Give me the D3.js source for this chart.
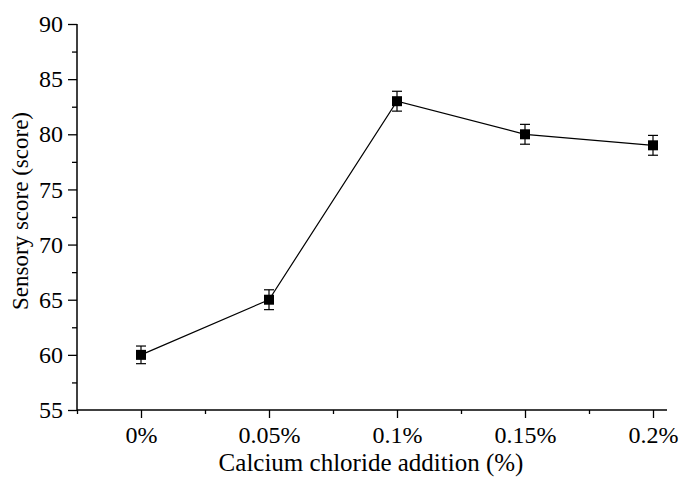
<!DOCTYPE html>
<html><head><meta charset="utf-8">
<script src="https://cdn.jsdelivr.net/npm/d3@7"></script>
<style>html,body{margin:0;padding:0;background:#fff;} svg{display:block;}</style>
</head><body>
<svg id="c" width="681" height="478"></svg>
<script>
const categories = ["0%", "0.05%", "0.1%", "0.15%", "0.2%"];
const scores = [60, 65, 83, 80, 79];
const errors = [0.8, 0.9, 0.9, 0.9, 0.9];
const yTicks = [55, 60, 65, 70, 75, 80, 85, 90];
const yMinorTicks = [57.5, 62.5, 67.5, 72.5, 77.5, 82.5, 87.5];
const xMinorTicks = [-0.5, 0.5, 1.5, 2.5, 3.5];
const xTitle = "Calcium chloride addition (%)";
const yTitle = "Sensory score (score)";

(function () {
const svg = d3.select("#c");
const font = "'Liberation Serif', 'Times New Roman', serif";
const mLeft = 77, mTop = 24, mBottom = 410, mRight = 667;

const x = d3.scaleLinear().domain([-0.5, 4]).range([mLeft, 653]);
const y = d3.scaleLinear().domain([55, 90]).range([mBottom, mTop]);

// axis lines
svg.append("line").attr("x1", mLeft).attr("x2", mRight).attr("y1", mBottom).attr("y2", mBottom)
  .attr("stroke", "#000").attr("stroke-width", 1.5);
svg.append("line").attr("x1", mLeft).attr("x2", mLeft).attr("y1", mBottom + 0.75).attr("y2", mTop)
  .attr("stroke", "#000").attr("stroke-width", 1.5);

// y axis ticks
const yAxis = d3.axisLeft(y).tickValues(yTicks).tickSize(9).tickPadding(5).tickFormat(d3.format("d"));
const gy = svg.append("g").attr("transform", `translate(${mLeft},0)`).call(yAxis);
gy.select(".domain").remove();
gy.selectAll("line").attr("stroke-width", 1.3);
gy.selectAll("text").attr("font-family", font).attr("font-size", 24).attr("fill", "#000");
const yMinor = d3.axisLeft(y).tickValues(yMinorTicks).tickSize(5).tickFormat("");
const gym = svg.append("g").attr("transform", `translate(${mLeft},0)`).call(yMinor);
gym.select(".domain").remove();
gym.selectAll("line").attr("stroke-width", 1.3);

// x axis ticks
const xAxis = d3.axisBottom(x).tickValues(d3.range(categories.length)).tickSize(8).tickPadding(8)
  .tickFormat(i => categories[i]);
const gx = svg.append("g").attr("transform", `translate(0,${mBottom})`).call(xAxis);
gx.select(".domain").remove();
gx.selectAll("line").attr("stroke-width", 1.3);
gx.selectAll("text").attr("font-family", font).attr("font-size", 24).attr("fill", "#000");
const xMinor = d3.axisBottom(x).tickValues(xMinorTicks).tickSize(4).tickFormat("");
const gxm = svg.append("g").attr("transform", `translate(0,${mBottom})`).call(xMinor);
gxm.select(".domain").remove();
gxm.selectAll("line").attr("stroke-width", 1.3);

// line
const line = d3.line().x((d, i) => x(i)).y(d => y(d));
svg.append("path").datum(scores).attr("d", line).attr("fill", "none")
  .attr("stroke", "#000").attr("stroke-width", 1.2);

// error bars
const eb = svg.append("g");
scores.forEach((v, i) => {
  const cx = x(i), hi = y(v + errors[i]), lo = y(v - errors[i]);
  eb.append("line").attr("x1", cx).attr("x2", cx).attr("y1", hi).attr("y2", lo).attr("stroke", "#000").attr("stroke-width", 1.2);
  eb.append("line").attr("x1", cx - 5).attr("x2", cx + 5).attr("y1", hi).attr("y2", hi).attr("stroke", "#000").attr("stroke-width", 1.2);
  eb.append("line").attr("x1", cx - 5).attr("x2", cx + 5).attr("y1", lo).attr("y2", lo).attr("stroke", "#000").attr("stroke-width", 1.2);
});

// markers
svg.append("g").selectAll("rect").data(scores).join("rect")
  .attr("x", (d, i) => x(i) - 5).attr("y", d => y(d) - 5)
  .attr("width", 10).attr("height", 10).attr("fill", "#000");

// titles
svg.append("text")
  .attr("x", 371).attr("y", 471).attr("text-anchor", "middle")
  .attr("font-family", font).attr("font-size", 25).attr("fill", "#000").text(xTitle);
svg.append("text").attr("transform", "translate(28,211) rotate(-90)")
  .attr("text-anchor", "middle").attr("font-family", font).attr("font-size", 23).attr("fill", "#000").text(yTitle);
})();
</script>
</body></html>
